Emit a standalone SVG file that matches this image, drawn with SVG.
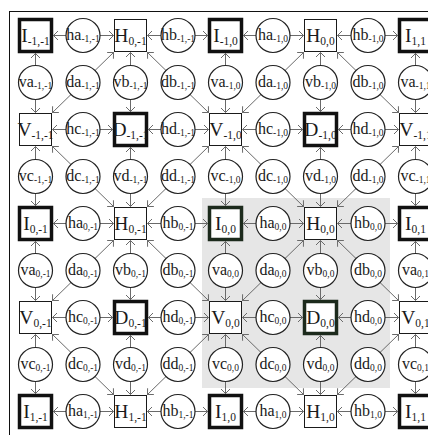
<svg xmlns="http://www.w3.org/2000/svg" width="428" height="435" viewBox="0 0 428 435">
<style>
.sq{fill:#fff;stroke:#1a1a1a;stroke-width:1}
.sqb{fill:#fff;stroke:#111;stroke-width:3.5}
.cir{fill:#fff;stroke:#222;stroke-width:1.2}
text{font-family:"Liberation Serif","Times New Roman",serif;fill:#1a1a1a;text-anchor:middle}
.tb{font-size:19.5px}
.ts{font-size:16px}
.s1{font-size:11.5px}
.s2{font-size:9.5px}
#conn line{stroke:#6a6a6a;stroke-width:1;marker-end:url(#ah)}
</style>
<defs>
<marker id="ah" markerUnits="userSpaceOnUse" markerWidth="10" markerHeight="10" refX="0" refY="0" orient="auto" overflow="visible">
<path d="M-4.5,-4.5 L0,0 L-4.5,4.5" fill="none" stroke="#6a6a6a" stroke-width="1"/>
</marker>
</defs>
<rect x="0" y="0" width="428" height="435" fill="#fff"/>
<rect x="9.5" y="11.5" width="440" height="440" fill="none" stroke="#111" stroke-width="1"/>
<rect x="202" y="198" width="188" height="190" fill="#e6e6e6"/>

<g id="conn">
<g transform="translate(83,35.5)"><line x1="-17" y1="0" x2="-29.5" y2="0"/><line x1="17" y1="0" x2="30.5" y2="0"/></g>
<g transform="translate(178,35.5)"><line x1="-17" y1="0" x2="-30.5" y2="0"/><line x1="17" y1="0" x2="29.5" y2="0"/></g>
<g transform="translate(273,35.5)"><line x1="-17" y1="0" x2="-29.5" y2="0"/><line x1="17" y1="0" x2="30.5" y2="0"/></g>
<g transform="translate(368,35.5)"><line x1="-17" y1="0" x2="-30.5" y2="0"/><line x1="17" y1="0" x2="29.5" y2="0"/></g>
<g transform="translate(83,223.5)"><line x1="-17" y1="0" x2="-29.5" y2="0"/><line x1="17" y1="0" x2="30.5" y2="0"/></g>
<g transform="translate(178,223.5)"><line x1="-17" y1="0" x2="-30.5" y2="0"/><line x1="17" y1="0" x2="29.5" y2="0"/></g>
<g transform="translate(273,223.5)"><line x1="-17" y1="0" x2="-29.5" y2="0"/><line x1="17" y1="0" x2="30.5" y2="0"/></g>
<g transform="translate(368,223.5)"><line x1="-17" y1="0" x2="-30.5" y2="0"/><line x1="17" y1="0" x2="29.5" y2="0"/></g>
<g transform="translate(83,411.5)"><line x1="-17" y1="0" x2="-29.5" y2="0"/><line x1="17" y1="0" x2="30.5" y2="0"/></g>
<g transform="translate(178,411.5)"><line x1="-17" y1="0" x2="-30.5" y2="0"/><line x1="17" y1="0" x2="29.5" y2="0"/></g>
<g transform="translate(273,411.5)"><line x1="-17" y1="0" x2="-29.5" y2="0"/><line x1="17" y1="0" x2="30.5" y2="0"/></g>
<g transform="translate(368,411.5)"><line x1="-17" y1="0" x2="-30.5" y2="0"/><line x1="17" y1="0" x2="29.5" y2="0"/></g>
<g transform="translate(83,129.5)"><line x1="-17" y1="0" x2="-30.5" y2="0"/><line x1="17" y1="0" x2="29.5" y2="0"/></g>
<g transform="translate(178,129.5)"><line x1="-17" y1="0" x2="-29.5" y2="0"/><line x1="17" y1="0" x2="30.5" y2="0"/></g>
<g transform="translate(273,129.5)"><line x1="-17" y1="0" x2="-30.5" y2="0"/><line x1="17" y1="0" x2="29.5" y2="0"/></g>
<g transform="translate(368,129.5)"><line x1="-17" y1="0" x2="-29.5" y2="0"/><line x1="17" y1="0" x2="30.5" y2="0"/></g>
<g transform="translate(83,317.5)"><line x1="-17" y1="0" x2="-30.5" y2="0"/><line x1="17" y1="0" x2="29.5" y2="0"/></g>
<g transform="translate(178,317.5)"><line x1="-17" y1="0" x2="-29.5" y2="0"/><line x1="17" y1="0" x2="30.5" y2="0"/></g>
<g transform="translate(273,317.5)"><line x1="-17" y1="0" x2="-30.5" y2="0"/><line x1="17" y1="0" x2="29.5" y2="0"/></g>
<g transform="translate(368,317.5)"><line x1="-17" y1="0" x2="-29.5" y2="0"/><line x1="17" y1="0" x2="30.5" y2="0"/></g>
<g transform="translate(35.5,82.5)"><line x1="0" y1="-17" x2="0" y2="-29"/><line x1="0" y1="17" x2="0" y2="30"/></g>
<g transform="translate(83,82.5)"><line x1="12" y1="-12" x2="30.5" y2="-30"/><line x1="-12" y1="12" x2="-30.5" y2="30"/></g>
<g transform="translate(130.5,82.5)"><line x1="0" y1="-17" x2="0" y2="-30"/><line x1="0" y1="17" x2="0" y2="29"/></g>
<g transform="translate(178,82.5)"><line x1="-12" y1="-12" x2="-30.5" y2="-30"/><line x1="12" y1="12" x2="30.5" y2="30"/></g>
<g transform="translate(225.5,82.5)"><line x1="0" y1="-17" x2="0" y2="-29"/><line x1="0" y1="17" x2="0" y2="30"/></g>
<g transform="translate(273,82.5)"><line x1="12" y1="-12" x2="30.5" y2="-30"/><line x1="-12" y1="12" x2="-30.5" y2="30"/></g>
<g transform="translate(320.5,82.5)"><line x1="0" y1="-17" x2="0" y2="-30"/><line x1="0" y1="17" x2="0" y2="29"/></g>
<g transform="translate(368,82.5)"><line x1="-12" y1="-12" x2="-30.5" y2="-30"/><line x1="12" y1="12" x2="30.5" y2="30"/></g>
<g transform="translate(415.5,82.5)"><line x1="0" y1="-17" x2="0" y2="-29"/><line x1="0" y1="17" x2="0" y2="30"/></g>
<g transform="translate(35.5,270.5)"><line x1="0" y1="-17" x2="0" y2="-29"/><line x1="0" y1="17" x2="0" y2="30"/></g>
<g transform="translate(83,270.5)"><line x1="12" y1="-12" x2="30.5" y2="-30"/><line x1="-12" y1="12" x2="-30.5" y2="30"/></g>
<g transform="translate(130.5,270.5)"><line x1="0" y1="-17" x2="0" y2="-30"/><line x1="0" y1="17" x2="0" y2="29"/></g>
<g transform="translate(178,270.5)"><line x1="-12" y1="-12" x2="-30.5" y2="-30"/><line x1="12" y1="12" x2="30.5" y2="30"/></g>
<g transform="translate(225.5,270.5)"><line x1="0" y1="-17" x2="0" y2="-29"/><line x1="0" y1="17" x2="0" y2="30"/></g>
<g transform="translate(273,270.5)"><line x1="12" y1="-12" x2="30.5" y2="-30"/><line x1="-12" y1="12" x2="-30.5" y2="30"/></g>
<g transform="translate(320.5,270.5)"><line x1="0" y1="-17" x2="0" y2="-30"/><line x1="0" y1="17" x2="0" y2="29"/></g>
<g transform="translate(368,270.5)"><line x1="-12" y1="-12" x2="-30.5" y2="-30"/><line x1="12" y1="12" x2="30.5" y2="30"/></g>
<g transform="translate(415.5,270.5)"><line x1="0" y1="-17" x2="0" y2="-29"/><line x1="0" y1="17" x2="0" y2="30"/></g>
<g transform="translate(35.5,176.5)"><line x1="0" y1="-17" x2="0" y2="-30"/><line x1="0" y1="17" x2="0" y2="29"/></g>
<g transform="translate(83,176.5)"><line x1="-12" y1="-12" x2="-30.5" y2="-30"/><line x1="12" y1="12" x2="30.5" y2="30"/></g>
<g transform="translate(130.5,176.5)"><line x1="0" y1="-17" x2="0" y2="-29"/><line x1="0" y1="17" x2="0" y2="30"/></g>
<g transform="translate(178,176.5)"><line x1="12" y1="-12" x2="30.5" y2="-30"/><line x1="-12" y1="12" x2="-30.5" y2="30"/></g>
<g transform="translate(225.5,176.5)"><line x1="0" y1="-17" x2="0" y2="-30"/><line x1="0" y1="17" x2="0" y2="29"/></g>
<g transform="translate(273,176.5)"><line x1="-12" y1="-12" x2="-30.5" y2="-30"/><line x1="12" y1="12" x2="30.5" y2="30"/></g>
<g transform="translate(320.5,176.5)"><line x1="0" y1="-17" x2="0" y2="-29"/><line x1="0" y1="17" x2="0" y2="30"/></g>
<g transform="translate(368,176.5)"><line x1="12" y1="-12" x2="30.5" y2="-30"/><line x1="-12" y1="12" x2="-30.5" y2="30"/></g>
<g transform="translate(415.5,176.5)"><line x1="0" y1="-17" x2="0" y2="-30"/><line x1="0" y1="17" x2="0" y2="29"/></g>
<g transform="translate(35.5,364.5)"><line x1="0" y1="-17" x2="0" y2="-30"/><line x1="0" y1="17" x2="0" y2="29"/></g>
<g transform="translate(83,364.5)"><line x1="-12" y1="-12" x2="-30.5" y2="-30"/><line x1="12" y1="12" x2="30.5" y2="30"/></g>
<g transform="translate(130.5,364.5)"><line x1="0" y1="-17" x2="0" y2="-29"/><line x1="0" y1="17" x2="0" y2="30"/></g>
<g transform="translate(178,364.5)"><line x1="12" y1="-12" x2="30.5" y2="-30"/><line x1="-12" y1="12" x2="-30.5" y2="30"/></g>
<g transform="translate(225.5,364.5)"><line x1="0" y1="-17" x2="0" y2="-30"/><line x1="0" y1="17" x2="0" y2="29"/></g>
<g transform="translate(273,364.5)"><line x1="-12" y1="-12" x2="-30.5" y2="-30"/><line x1="12" y1="12" x2="30.5" y2="30"/></g>
<g transform="translate(320.5,364.5)"><line x1="0" y1="-17" x2="0" y2="-29"/><line x1="0" y1="17" x2="0" y2="30"/></g>
<g transform="translate(368,364.5)"><line x1="12" y1="-12" x2="30.5" y2="-30"/><line x1="-12" y1="12" x2="-30.5" y2="30"/></g>
<g transform="translate(415.5,364.5)"><line x1="0" y1="-17" x2="0" y2="-30"/><line x1="0" y1="17" x2="0" y2="29"/></g>
</g>

<g id="r0c0" transform="translate(35.5,35.5)"><rect class="sqb" x="-16" y="-16" width="32" height="32"/><text class="tb" y="6.5">I<tspan class="s1" dy="3">-1,-1</tspan></text></g>
<g id="r0c1" transform="translate(83,35.5)"><circle class="cir" r="17"/><text class="ts" y="4">ha<tspan class="s2" dy="2.5">-1,-1</tspan></text></g>
<g id="r0c2" transform="translate(130.5,35.5)"><rect class="sq" x="-16" y="-16" width="32" height="32"/><text class="tb" y="6.5">H<tspan class="s1" dy="3">0,-1</tspan></text></g>
<g id="r0c3" transform="translate(178,35.5)"><circle class="cir" r="17"/><text class="ts" y="4">hb<tspan class="s2" dy="2.5">-1,-1</tspan></text></g>
<g id="r0c4" transform="translate(225.5,35.5)"><rect class="sqb" x="-16" y="-16" width="32" height="32"/><text class="tb" y="6.5">I<tspan class="s1" dy="3">-1,0</tspan></text></g>
<g id="r0c5" transform="translate(273,35.5)"><circle class="cir" r="17"/><text class="ts" y="4">ha<tspan class="s2" dy="2.5">-1,0</tspan></text></g>
<g id="r0c6" transform="translate(320.5,35.5)"><rect class="sq" x="-16" y="-16" width="32" height="32"/><text class="tb" y="6.5">H<tspan class="s1" dy="3">0,0</tspan></text></g>
<g id="r0c7" transform="translate(368,35.5)"><circle class="cir" r="17"/><text class="ts" y="4">hb<tspan class="s2" dy="2.5">-1,0</tspan></text></g>
<g id="r0c8" transform="translate(415.5,35.5)"><rect class="sqb" x="-16" y="-16" width="32" height="32"/><text class="tb" y="6.5">I<tspan class="s1" dy="3">1,1</tspan></text></g>

<g id="r1c0" transform="translate(35.5,82.5)"><circle class="cir" r="17"/><text class="ts" y="4">va<tspan class="s2" dy="2.5">-1,-1</tspan></text></g>
<g id="r1c1" transform="translate(83,82.5)"><circle class="cir" r="17"/><text class="ts" y="4">da<tspan class="s2" dy="2.5">-1,-1</tspan></text></g>
<g id="r1c2" transform="translate(130.5,82.5)"><circle class="cir" r="17"/><text class="ts" y="4">vb<tspan class="s2" dy="2.5">-1,-1</tspan></text></g>
<g id="r1c3" transform="translate(178,82.5)"><circle class="cir" r="17"/><text class="ts" y="4">db<tspan class="s2" dy="2.5">-1,-1</tspan></text></g>
<g id="r1c4" transform="translate(225.5,82.5)"><circle class="cir" r="17"/><text class="ts" y="4">va<tspan class="s2" dy="2.5">-1,0</tspan></text></g>
<g id="r1c5" transform="translate(273,82.5)"><circle class="cir" r="17"/><text class="ts" y="4">da<tspan class="s2" dy="2.5">-1,0</tspan></text></g>
<g id="r1c6" transform="translate(320.5,82.5)"><circle class="cir" r="17"/><text class="ts" y="4">vb<tspan class="s2" dy="2.5">-1,0</tspan></text></g>
<g id="r1c7" transform="translate(368,82.5)"><circle class="cir" r="17"/><text class="ts" y="4">db<tspan class="s2" dy="2.5">-1,0</tspan></text></g>
<g id="r1c8" transform="translate(415.5,82.5)"><circle class="cir" r="17"/><text class="ts" y="4">va<tspan class="s2" dy="2.5">-1,1</tspan></text></g>

<g id="r2c0" transform="translate(35.5,129.5)"><rect class="sq" x="-16" y="-16" width="32" height="32"/><text class="tb" y="6.5">V<tspan class="s1" dy="3">-1,-1</tspan></text></g>
<g id="r2c1" transform="translate(83,129.5)"><circle class="cir" r="17"/><text class="ts" y="4">hc<tspan class="s2" dy="2.5">-1,-1</tspan></text></g>
<g id="r2c2" transform="translate(130.5,129.5)"><rect class="sqb" x="-16" y="-16" width="32" height="32"/><text class="tb" y="6.5">D<tspan class="s1" dy="3">-1,-1</tspan></text></g>
<g id="r2c3" transform="translate(178,129.5)"><circle class="cir" r="17"/><text class="ts" y="4">hd<tspan class="s2" dy="2.5">-1,-1</tspan></text></g>
<g id="r2c4" transform="translate(225.5,129.5)"><rect class="sq" x="-16" y="-16" width="32" height="32"/><text class="tb" y="6.5">V<tspan class="s1" dy="3">-1,0</tspan></text></g>
<g id="r2c5" transform="translate(273,129.5)"><circle class="cir" r="17"/><text class="ts" y="4">hc<tspan class="s2" dy="2.5">-1,0</tspan></text></g>
<g id="r2c6" transform="translate(320.5,129.5)"><rect class="sqb" x="-16" y="-16" width="32" height="32"/><text class="tb" y="6.5">D<tspan class="s1" dy="3">-1,0</tspan></text></g>
<g id="r2c7" transform="translate(368,129.5)"><circle class="cir" r="17"/><text class="ts" y="4">hd<tspan class="s2" dy="2.5">-1,0</tspan></text></g>
<g id="r2c8" transform="translate(415.5,129.5)"><rect class="sq" x="-16" y="-16" width="32" height="32"/><text class="tb" y="6.5">V<tspan class="s1" dy="3">-1,1</tspan></text></g>

<g id="r3c0" transform="translate(35.5,176.5)"><circle class="cir" r="17"/><text class="ts" y="4">vc<tspan class="s2" dy="2.5">-1,-1</tspan></text></g>
<g id="r3c1" transform="translate(83,176.5)"><circle class="cir" r="17"/><text class="ts" y="4">dc<tspan class="s2" dy="2.5">-1,-1</tspan></text></g>
<g id="r3c2" transform="translate(130.5,176.5)"><circle class="cir" r="17"/><text class="ts" y="4">vd<tspan class="s2" dy="2.5">-1,-1</tspan></text></g>
<g id="r3c3" transform="translate(178,176.5)"><circle class="cir" r="17"/><text class="ts" y="4">dd<tspan class="s2" dy="2.5">-1,-1</tspan></text></g>
<g id="r3c4" transform="translate(225.5,176.5)"><circle class="cir" r="17"/><text class="ts" y="4">vc<tspan class="s2" dy="2.5">-1,0</tspan></text></g>
<g id="r3c5" transform="translate(273,176.5)"><circle class="cir" r="17"/><text class="ts" y="4">dc<tspan class="s2" dy="2.5">-1,0</tspan></text></g>
<g id="r3c6" transform="translate(320.5,176.5)"><circle class="cir" r="17"/><text class="ts" y="4">vd<tspan class="s2" dy="2.5">-1,0</tspan></text></g>
<g id="r3c7" transform="translate(368,176.5)"><circle class="cir" r="17"/><text class="ts" y="4">dd<tspan class="s2" dy="2.5">-1,0</tspan></text></g>
<g id="r3c8" transform="translate(415.5,176.5)"><circle class="cir" r="17"/><text class="ts" y="4">vc<tspan class="s2" dy="2.5">-1,1</tspan></text></g>

<g id="r4c0" transform="translate(35.5,223.5)"><rect class="sqb" x="-16" y="-16" width="32" height="32"/><text class="tb" y="6.5">I<tspan class="s1" dy="3">0,-1</tspan></text></g>
<g id="r4c1" transform="translate(83,223.5)"><circle class="cir" r="17"/><text class="ts" y="4">ha<tspan class="s2" dy="2.5">0,-1</tspan></text></g>
<g id="r4c2" transform="translate(130.5,223.5)"><rect class="sq" x="-16" y="-16" width="32" height="32"/><text class="tb" y="6.5">H<tspan class="s1" dy="3">0,-1</tspan></text></g>
<g id="r4c3" transform="translate(178,223.5)"><circle class="cir" r="17"/><text class="ts" y="4">hb<tspan class="s2" dy="2.5">0,-1</tspan></text></g>
<g id="r4c4" transform="translate(225.5,223.5)"><rect class="sqb" style="stroke:#1c2a1c" x="-16" y="-16" width="32" height="32"/><text class="tb" y="6.5">I<tspan class="s1" dy="3">0,0</tspan></text></g>
<g id="r4c5" transform="translate(273,223.5)"><circle class="cir" r="17"/><text class="ts" y="4">ha<tspan class="s2" dy="2.5">0,0</tspan></text></g>
<g id="r4c6" transform="translate(320.5,223.5)"><rect class="sq" x="-16" y="-16" width="32" height="32"/><text class="tb" y="6.5">H<tspan class="s1" dy="3">0,0</tspan></text></g>
<g id="r4c7" transform="translate(368,223.5)"><circle class="cir" r="17"/><text class="ts" y="4">hb<tspan class="s2" dy="2.5">0,0</tspan></text></g>
<g id="r4c8" transform="translate(415.5,223.5)"><rect class="sqb" x="-16" y="-16" width="32" height="32"/><text class="tb" y="6.5">I<tspan class="s1" dy="3">0,1</tspan></text></g>

<g id="r5c0" transform="translate(35.5,270.5)"><circle class="cir" r="17"/><text class="ts" y="4">va<tspan class="s2" dy="2.5">0,-1</tspan></text></g>
<g id="r5c1" transform="translate(83,270.5)"><circle class="cir" r="17"/><text class="ts" y="4">da<tspan class="s2" dy="2.5">0,-1</tspan></text></g>
<g id="r5c2" transform="translate(130.5,270.5)"><circle class="cir" r="17"/><text class="ts" y="4">vb<tspan class="s2" dy="2.5">0,-1</tspan></text></g>
<g id="r5c3" transform="translate(178,270.5)"><circle class="cir" r="17"/><text class="ts" y="4">db<tspan class="s2" dy="2.5">0,-1</tspan></text></g>
<g id="r5c4" transform="translate(225.5,270.5)"><circle class="cir" r="17"/><text class="ts" y="4">va<tspan class="s2" dy="2.5">0,0</tspan></text></g>
<g id="r5c5" transform="translate(273,270.5)"><circle class="cir" r="17"/><text class="ts" y="4">da<tspan class="s2" dy="2.5">0,0</tspan></text></g>
<g id="r5c6" transform="translate(320.5,270.5)"><circle class="cir" r="17"/><text class="ts" y="4">vb<tspan class="s2" dy="2.5">0,0</tspan></text></g>
<g id="r5c7" transform="translate(368,270.5)"><circle class="cir" r="17"/><text class="ts" y="4">db<tspan class="s2" dy="2.5">0,0</tspan></text></g>
<g id="r5c8" transform="translate(415.5,270.5)"><circle class="cir" r="17"/><text class="ts" y="4">va<tspan class="s2" dy="2.5">0,1</tspan></text></g>

<g id="r6c0" transform="translate(35.5,317.5)"><rect class="sq" x="-16" y="-16" width="32" height="32"/><text class="tb" y="6.5">V<tspan class="s1" dy="3">0,-1</tspan></text></g>
<g id="r6c1" transform="translate(83,317.5)"><circle class="cir" r="17"/><text class="ts" y="4">hc<tspan class="s2" dy="2.5">0,-1</tspan></text></g>
<g id="r6c2" transform="translate(130.5,317.5)"><rect class="sqb" x="-16" y="-16" width="32" height="32"/><text class="tb" y="6.5">D<tspan class="s1" dy="3">0,-1</tspan></text></g>
<g id="r6c3" transform="translate(178,317.5)"><circle class="cir" r="17"/><text class="ts" y="4">hd<tspan class="s2" dy="2.5">0,-1</tspan></text></g>
<g id="r6c4" transform="translate(225.5,317.5)"><rect class="sq" x="-16" y="-16" width="32" height="32"/><text class="tb" y="6.5">V<tspan class="s1" dy="3">0,0</tspan></text></g>
<g id="r6c5" transform="translate(273,317.5)"><circle class="cir" r="17"/><text class="ts" y="4">hc<tspan class="s2" dy="2.5">0,0</tspan></text></g>
<g id="r6c6" transform="translate(320.5,317.5)"><rect class="sqb" style="stroke:#1c2a1c" x="-16" y="-16" width="32" height="32"/><text class="tb" y="6.5">D<tspan class="s1" dy="3">0,0</tspan></text></g>
<g id="r6c7" transform="translate(368,317.5)"><circle class="cir" r="17"/><text class="ts" y="4">hd<tspan class="s2" dy="2.5">0,0</tspan></text></g>
<g id="r6c8" transform="translate(415.5,317.5)"><rect class="sq" x="-16" y="-16" width="32" height="32"/><text class="tb" y="6.5">V<tspan class="s1" dy="3">0,1</tspan></text></g>

<g id="r7c0" transform="translate(35.5,364.5)"><circle class="cir" r="17"/><text class="ts" y="4">vc<tspan class="s2" dy="2.5">0,-1</tspan></text></g>
<g id="r7c1" transform="translate(83,364.5)"><circle class="cir" r="17"/><text class="ts" y="4">dc<tspan class="s2" dy="2.5">0,-1</tspan></text></g>
<g id="r7c2" transform="translate(130.5,364.5)"><circle class="cir" r="17"/><text class="ts" y="4">vd<tspan class="s2" dy="2.5">0,-1</tspan></text></g>
<g id="r7c3" transform="translate(178,364.5)"><circle class="cir" r="17"/><text class="ts" y="4">dd<tspan class="s2" dy="2.5">0,-1</tspan></text></g>
<g id="r7c4" transform="translate(225.5,364.5)"><circle class="cir" r="17"/><text class="ts" y="4">vc<tspan class="s2" dy="2.5">0,0</tspan></text></g>
<g id="r7c5" transform="translate(273,364.5)"><circle class="cir" r="17"/><text class="ts" y="4">dc<tspan class="s2" dy="2.5">0,0</tspan></text></g>
<g id="r7c6" transform="translate(320.5,364.5)"><circle class="cir" r="17"/><text class="ts" y="4">vd<tspan class="s2" dy="2.5">0,0</tspan></text></g>
<g id="r7c7" transform="translate(368,364.5)"><circle class="cir" r="17"/><text class="ts" y="4">dd<tspan class="s2" dy="2.5">0,0</tspan></text></g>
<g id="r7c8" transform="translate(415.5,364.5)"><circle class="cir" r="17"/><text class="ts" y="4">vc<tspan class="s2" dy="2.5">0,1</tspan></text></g>

<g id="r8c0" transform="translate(35.5,411.5)"><rect class="sqb" x="-16" y="-16" width="32" height="32"/><text class="tb" y="6.5">I<tspan class="s1" dy="3">1,-1</tspan></text></g>
<g id="r8c1" transform="translate(83,411.5)"><circle class="cir" r="17"/><text class="ts" y="4">ha<tspan class="s2" dy="2.5">1,-1</tspan></text></g>
<g id="r8c2" transform="translate(130.5,411.5)"><rect class="sq" x="-16" y="-16" width="32" height="32"/><text class="tb" y="6.5">H<tspan class="s1" dy="3">1,-1</tspan></text></g>
<g id="r8c3" transform="translate(178,411.5)"><circle class="cir" r="17"/><text class="ts" y="4">hb<tspan class="s2" dy="2.5">1,-1</tspan></text></g>
<g id="r8c4" transform="translate(225.5,411.5)"><rect class="sqb" x="-16" y="-16" width="32" height="32"/><text class="tb" y="6.5">I<tspan class="s1" dy="3">1,0</tspan></text></g>
<g id="r8c5" transform="translate(273,411.5)"><circle class="cir" r="17"/><text class="ts" y="4">ha<tspan class="s2" dy="2.5">1,0</tspan></text></g>
<g id="r8c6" transform="translate(320.5,411.5)"><rect class="sq" x="-16" y="-16" width="32" height="32"/><text class="tb" y="6.5">H<tspan class="s1" dy="3">1,0</tspan></text></g>
<g id="r8c7" transform="translate(368,411.5)"><circle class="cir" r="17"/><text class="ts" y="4">hb<tspan class="s2" dy="2.5">1,0</tspan></text></g>
<g id="r8c8" transform="translate(415.5,411.5)"><rect class="sqb" x="-16" y="-16" width="32" height="32"/><text class="tb" y="6.5">I<tspan class="s1" dy="3">1,1</tspan></text></g>
</svg>
